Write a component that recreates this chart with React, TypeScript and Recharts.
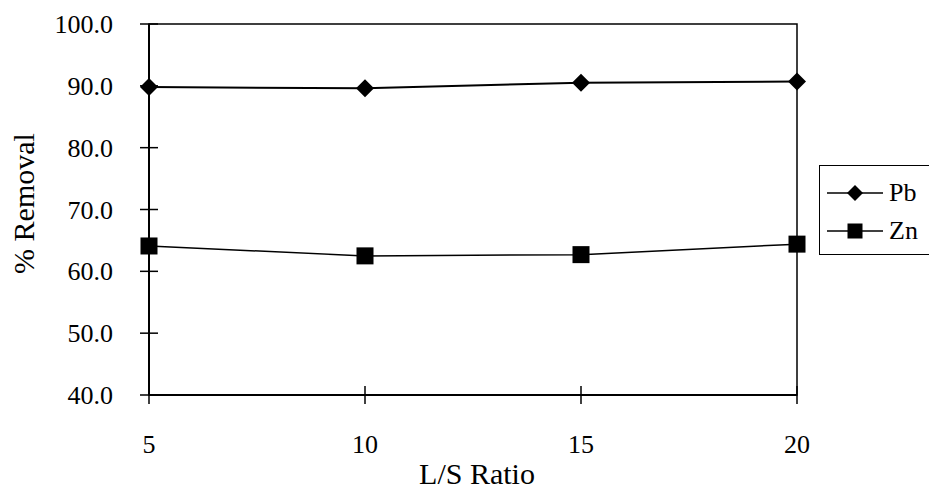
import React from 'react';
import {
  LineChart,
  Line,
  XAxis,
  YAxis,
  Legend,
  ReferenceArea,
  Label
} from 'recharts';

const ratios = [5, 10, 15, 20];
const pbRemoval = [89.8, 89.6, 90.5, 90.7];
const znRemoval = [64.1, 62.5, 62.7, 64.4];
const yTicks = [40, 50, 60, 70, 80, 90, 100];

const data = ratios.map((r, i) => ({ ratio: r, Pb: pbRemoval[i], Zn: znRemoval[i] }));

const FONT = 'Liberation Serif, Tinos, Times New Roman, DejaVu Serif, serif';
const TICK_FONT = 26;
const TITLE_FONT = 30;
const Y_GAP = 36;
const X_GAP = 40;

const Diamond = ({ cx, cy, r }: { cx: number; cy: number; r: number }) => (
  <path d={`M${cx} ${cy - r}L${cx + r} ${cy}L${cx} ${cy + r}L${cx - r} ${cy}Z`} fill="#000" />
);

const Square = ({ cx, cy, r }: { cx: number; cy: number; r: number }) => (
  <rect x={cx - r} y={cy - r} width={r * 2} height={r * 2} fill="#000" />
);

// tick marks cross the axis line, so draw them with the label
const YTick = (props: any) => {
  const { x, y, payload } = props;
  const ax = x + Y_GAP;
  return (
    <g>
      <line x1={ax - 9} x2={ax + 9} y1={y} y2={y} stroke="#000" strokeWidth={1.5} />
      <text x={x} y={y} dy="0.35em" textAnchor="end" style={{ fontFamily: FONT, fontSize: TICK_FONT }} fill="#000">
        {Number(payload.value).toFixed(1)}
      </text>
    </g>
  );
};

const XTick = (props: any) => {
  const { x, y, payload } = props;
  const ay = y - X_GAP;
  return (
    <g>
      <line x1={x} x2={x} y1={ay - 9} y2={ay + 9} stroke="#000" strokeWidth={1.5} />
      <text x={x} y={y} dy="0.68em" textAnchor="middle" style={{ fontFamily: FONT, fontSize: TICK_FONT }} fill="#000">
        {payload.value}
      </text>
    </g>
  );
};

const YTitle = (props: any) => {
  const vb = props.viewBox;
  const cy = vb.y + vb.height / 2 - 6;
  return (
    <text
      transform={`translate(${vb.x + 23}, ${cy}) rotate(-90)`}
      textAnchor="middle"
      dy="0.35em"
      style={{ fontFamily: FONT, fontSize: TITLE_FONT }}
      fill="#000"
    >
      % Removal
    </text>
  );
};

const XTitle = (props: any) => {
  const vb = props.viewBox;
  return (
    <text
      x={vb.x + vb.width / 2 + 4}
      y={vb.y + 89}
      textAnchor="middle"
      style={{ fontFamily: FONT, fontSize: TITLE_FONT }}
      fill="#000"
    >
      L/S Ratio
    </text>
  );
};

const LegendBox = (props: any) => {
  const items = props.payload || [];
  return (
    <div
      style={{
        width: 111,
        height: 90,
        boxSizing: 'border-box',
        border: '1.5px solid #000',
        background: '#fff',
        paddingTop: 8,
        fontFamily: FONT,
        fontSize: TICK_FONT,
        color: '#000'
      }}
    >
      {items.map((it: any) => (
        <div key={it.value} style={{ display: 'flex', alignItems: 'center', height: 38 }}>
          <svg width={62} height={20} style={{ marginLeft: 7 }}>
            <line x1={0} x2={56} y1={10} y2={10} stroke="#000" strokeWidth={1.5} />
            {it.value === 'Pb' ? <Diamond cx={28} cy={10} r={8} /> : <Square cx={28} cy={10} r={7.5} />}
          </svg>
          <span style={{ lineHeight: 1 }}>{it.value}</span>
        </div>
      ))}
    </div>
  );
};

export default function App() {
  return (
    <div style={{ position: 'absolute', left: 0, top: 0, width: 929, height: 492, overflow: 'hidden', background: '#fff' }}>
      <LineChart width={929} height={492} data={data} margin={{ top: 24, right: 132, bottom: 0, left: 0 }}>
        <ReferenceArea x1={5} x2={20} y1={40} y2={100} fill="none" stroke="#000" strokeWidth={1.5} ifOverflow="visible" />
        <XAxis
          dataKey="ratio"
          type="number"
          domain={[5, 20]}
          ticks={ratios}
          height={97}
          tickSize={0}
          tickMargin={X_GAP}
          tick={<XTick />}
          axisLine={{ stroke: '#000', strokeWidth: 2 }}
          tickLine={false}
        >
          <Label content={<XTitle />} />
        </XAxis>
        <YAxis
          type="number"
          domain={[40, 100]}
          ticks={yTicks}
          width={149}
          tickSize={0}
          tickMargin={Y_GAP}
          tick={<YTick />}
          axisLine={{ stroke: '#000', strokeWidth: 2 }}
          tickLine={false}
        >
          <Label content={<YTitle />} />
        </YAxis>
        <Legend
          layout="vertical"
          verticalAlign="middle"
          align="center"
          content={<LegendBox />}
          wrapperStyle={{ position: 'absolute', left: 819, top: 165, width: 111 }}
        />
        <Line
          dataKey="Pb"
          stroke="#000"
          strokeWidth={2}
          isAnimationActive={false}
          dot={(p: any) => <Diamond key={`pb-${p.index}`} cx={p.cx} cy={p.cy} r={9} />}
        />
        <Line
          dataKey="Zn"
          stroke="#000"
          strokeWidth={1.5}
          isAnimationActive={false}
          dot={(p: any) => <Square key={`zn-${p.index}`} cx={p.cx} cy={p.cy} r={8.5} />}
        />
      </LineChart>
    </div>
  );
}
